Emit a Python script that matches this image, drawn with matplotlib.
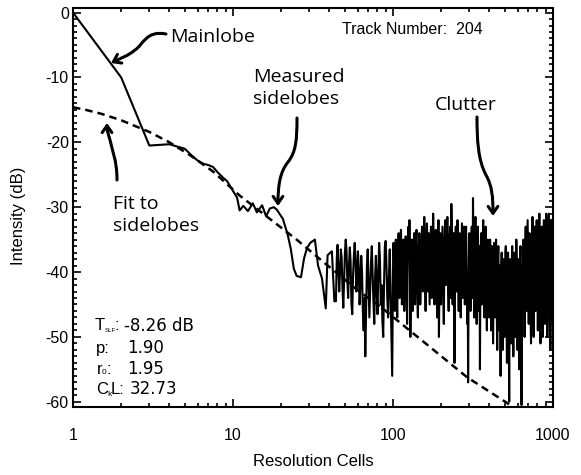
import numpy as np
import matplotlib
matplotlib.use("Agg")
import matplotlib.pyplot as plt
from matplotlib.path import Path
from matplotlib.patches import FancyArrowPatch
from matplotlib.ticker import LogLocator, MultipleLocator, NullFormatter

plt.rcParams["font.family"] = ["Liberation Sans", "DejaVu Sans"]
plt.rcParams["mathtext.default"] = "regular"
plt.rcParams["axes.unicode_minus"] = False

# measured range profile near the peak (resolution cells, dB)
near_cells = [1.0, 2.0, 3.0, 4.0, 5.0, 5.5, 6.0, 6.5, 7.0, 7.5, 8.0, 8.7, 9.2,
              10.0, 10.6, 11.0, 11.6, 12.4, 13.3, 14.1, 15.2, 16.1, 17.0, 18.0,
              18.8, 20.5, 22.0, 23.0, 24.0, 25.0, 26.6, 27.8, 29.0, 30.4, 31.6,
              32.5, 34.0, 36.0, 38.0, 39.0, 41.5, 43.0]
near_db = [0.0, -10.0, -20.5, -20.3, -21.0, -22.0, -22.8, -23.3, -23.5, -23.8,
           -24.6, -25.5, -26.0, -27.5, -28.5, -30.5, -29.8, -30.6, -29.4, -30.8,
           -29.7, -31.4, -30.2, -30.0, -30.4, -31.8, -34.3, -36.5, -39.5, -40.6,
           -40.8, -37.9, -36.3, -35.5, -35.2, -35.0, -39.0, -41.0, -45.6, -37.4,
           -36.8, -44.5]

# clutter, read per stretch of range (dB)
clutter_44_100 = [
    -44.5, -38.0, -35.8, -39.5, -43.0, -40.0, -36.5, -37.8, -42.5, -45.5,
    -41.0, -37.0, -35.0, -36.8, -41.5, -44.0, -39.0, -36.2, -38.5, -44.8,
    -46.5, -40.5, -37.5, -35.5, -38.0, -43.0, -41.0, -36.8, -39.5, -45.0,
    -42.0, -37.5, -40.0, -46.0, -49.0, -44.0, -53.0, -45.5, -39.0, -36.5,
    -41.5, -47.0, -43.0, -38.5, -36.0, -40.5, -44.5, -48.0, -41.0, -37.5,
    -43.0, -46.5, -40.0, -35.5, -38.0, -45.0, -42.0, -47.5, -50.0, -42.0,
    -36.0, -35.2, -39.0, -44.0, -47.0, -41.0, -36.5, -43.0, -49.0, -56.0]
clutter_100_150 = [
    -40, -35.5, -38, -43, -46, -39, -35, -37, -44, -47,
    -41, -36, -34, -38.5, -44, -40, -35, -33.5, -39, -45,
    -42, -37, -35, -41, -46, -43, -38, -34.5, -36, -42,
    -48, -41, -36, -33, -37, -32, -38, -50, -43, -37,
    -35, -40, -46, -42, -36, -34, -39, -45, -41, -35,
    -33.5, -37, -44, -47, -40, -36, -34, -38, -45, -42]
clutter_150_250 = [
    -41, -35, -33, -37, -43, -39, -34, -31.5, -36, -42,
    -46, -40, -35, -32.5, -37, -43, -38, -34, -40, -45,
    -41, -36, -33, -38, -44, -39, -35, -31, -34, -40,
    -45, -42, -36, -33.5, -38, -43, -47, -40, -35, -32,
    -50, -43, -37, -34, -39, -45, -41, -36, -33, -38,
    -44, -48, -40, -35, -32, -37, -42, -39, -34, -31.5,
    -36, -43, -46, -39, -35, -33, -38, -44, -29.5, -34,
    -40, -45, -38, -34, -37, -54, -44, -37, -33, -39]
clutter_250_400 = [
    -43, -36, -32, -35, -41, -46, -39, -34, -37, -43,
    -47, -41, -35, -32.5, -38, -44, -40, -35, -33, -39,
    -45, -42, -36, -33, -37, -43, -48, -40, -57, -45,
    -38, -34, -36, -42, -46, -39, -35, -33, -38, -44,
    -28.6, -36, -42, -47, -39, -34, -31.5, -37, -44, -48,
    -40, -35, -33, -39, -46, -42, -36, -55, -43, -37,
    -34, -40, -45, -38, -35, -32, -37, -43, -47, -41,
    -36, -33, -38, -45, -49, -40, -35, -37, -42, -46]
clutter_400_650 = [
    -47, -39, -35, -37, -43, -49, -42, -36, -38, -45,
    -51, -44, -38, -35.5, -40, -47, -43, -37, -35, -41,
    -48, -52, -44, -38, -36, -42, -49, -45, -39, -44,
    -56, -46, -39, -37, -42, -48, -52, -44, -38, -41,
    -47, -50, -43, -37, -36, -42, -49, -54, -46, -40,
    -37, -43, -50, -60, -47, -40, -38, -44, -51, -45,
    -39, -36, -41, -48, -53, -46, -40, -37, -43, -50,
    -45, -39, -35, -38, -46, -52, -44, -38, -41, -49,
    -55, -47, -40, -36, -43, -51, -60.5, -46, -39, -42]
clutter_650_1000 = [
    -40, -35, -38, -44, -50, -42, -36, -33, -39, -46,
    -41, -35, -32, -37, -43, -48, -40, -34, -36, -42,
    -47, -51, -44, -38, -34, -31.5, -36, -45, -50, -42,
    -35, -33, -39, -46, -41, -36, -32, -37, -44, -49,
    -43, -37, -34, -31, -38, -47, -51, -43, -36, -33,
    -40, -46, -50, -42, -35, -32, -38, -45, -48, -40,
    -34, -31, -36, -44, -50, -45, -38, -33, -31, -37,
    -43, -49, -52, -44, -37, -32, -35, -41, -48, -52]

# fitted sidelobe model
fit_cells = [1.0, 1.2, 1.5, 2.0, 3.0, 4.0, 5.4, 7.5, 11.0, 25.0, 36.5, 59.5,
             85.0, 133.0, 290.0, 518.0, 650.0]
fit_db = [-14.6, -15.0, -15.6, -16.6, -18.4, -20.0, -22.0, -24.5, -28.2, -35.0,
          -38.4, -42.7, -45.5, -49.4, -56.2, -60.2, -62.0]

stats_values = ["-8.26 dB", "1.90", "1.95", "32.73"]

# stitch the profile together
cells = list(near_cells)
db = list(near_db)
segments = [(44, 100, clutter_44_100), (100, 150, clutter_100_150),
            (150, 250, clutter_150_250), (250, 400, clutter_250_400),
            (400, 650, clutter_400_650), (650, 1000, clutter_650_1000)]
for i, (lo, hi, seg) in enumerate(segments):
    last = i == len(segments) - 1
    cells += list(np.geomspace(lo, hi, len(seg), endpoint=last))
    db += seg

W, H = 581, 475
fig = plt.figure(figsize=(W / 100, H / 100), dpi=100)
ax = fig.add_axes([73 / W, 1 - 407 / H, 480 / W, 399 / H])

ax.plot(cells, db, color="black", linewidth=1.5)
ax.plot(fit_cells, fit_db, color="black", linewidth=1.8, dashes=(3.0, 2.0))

ax.set_xscale("log")
ax.set_xlim(1, 1000)
ax.set_ylim(-60.8, 0.7)
ax.set_xticks([1, 10, 100, 1000], ["1", "10", "100", "1000"])
ax.xaxis.set_minor_locator(LogLocator(base=10, subs=range(2, 10)))
ax.xaxis.set_minor_formatter(NullFormatter())
ax.set_yticks(range(0, -61, -10))
ax.yaxis.set_minor_locator(MultipleLocator(1))
ax.tick_params(which="both", direction="in", top=True, right=True,
               width=1.2, labelsize=11.5)
ax.tick_params(which="major", length=6)
ax.tick_params(which="minor", length=3.2)
ax.tick_params(axis="x", pad=15)
ax.tick_params(axis="y", pad=3)
for s in ax.spines.values():
    s.set_linewidth(1.5)

ax.set_xlabel("Resolution Cells", fontsize=12)
ax.set_ylabel("Intensity (dB)", fontsize=12, va="center")
ax.xaxis.set_label_coords(0.5, -0.118)
ax.yaxis.set_label_coords(-0.113, 0.48)


def fxy(px, py):
    return px / W, 1 - py / H


fig.text(*fxy(342, 30), "Track Number:  204", fontsize=11.5, va="center")

# fit parameters box: labels with small hand-placed subscripts
lab = dict(fontsize=12, va="center")
sub = dict(fontsize=6, va="center")
rows_y = [326, 348, 369, 389]
fig.text(*fxy(95, rows_y[0]), "T", **lab)
fig.text(*fxy(104.5, rows_y[0] + 4), "SLF", fontsize=4.5, va="center")
fig.text(*fxy(115, rows_y[0]), ":", **lab)
fig.text(*fxy(96, rows_y[1]), "p:", **lab)
fig.text(*fxy(96.5, rows_y[2]), "r", **lab)
fig.text(*fxy(102, rows_y[2] + 4), "0", **sub)
fig.text(*fxy(106, rows_y[2]), ":", **lab)
fig.text(*fxy(96, rows_y[3]), "C", **lab)
fig.text(*fxy(107.5, rows_y[3] + 5), "k", **sub)
fig.text(*fxy(111, rows_y[3]), "L:", **lab)
for val, py, px in zip(stats_values, rows_y, [124, 127, 127, 130]):
    fig.text(*fxy(px, py), val, family="DejaVu Sans", fontsize=12, va="center")

note_font = dict(family="Open Sans", fontsize=14, va="center", linespacing=1.3)
fig.text(*fxy(170, 37), "Mainlobe", **note_font)
fig.text(*fxy(253, 88), "Measured\nsidelobes", **note_font)
fig.text(*fxy(435, 105), "Clutter", **note_font)
fig.text(*fxy(113, 215), "Fit to\nsidelobes", **note_font)

arrows = [
    [(166, 34), (146, 30), (143, 45), (135, 50), (128, 56), (121, 58), (111, 63)],
    [(117, 180), (117, 160), (112, 150), (110, 140), (108, 133), (107, 131), (107, 123)],
    [(297, 118), (297, 140), (296, 152), (288, 162), (280, 172), (278, 185), (278, 206)],
    [(477, 117), (477, 140), (478, 160), (486, 175), (492, 186), (493, 196), (493, 216)],
]
codes = [Path.MOVETO] + [Path.CURVE4] * 6
for pts in arrows:
    verts = [fxy(px, py) for px, py in pts]
    arr = FancyArrowPatch(path=Path(verts, codes),
                          arrowstyle="->,head_length=5,head_width=3.5",
                          color="black", linewidth=2.2,
                          transform=fig.transFigure)
    fig.add_artist(arr)

fig.savefig("out.png", dpi=100)
